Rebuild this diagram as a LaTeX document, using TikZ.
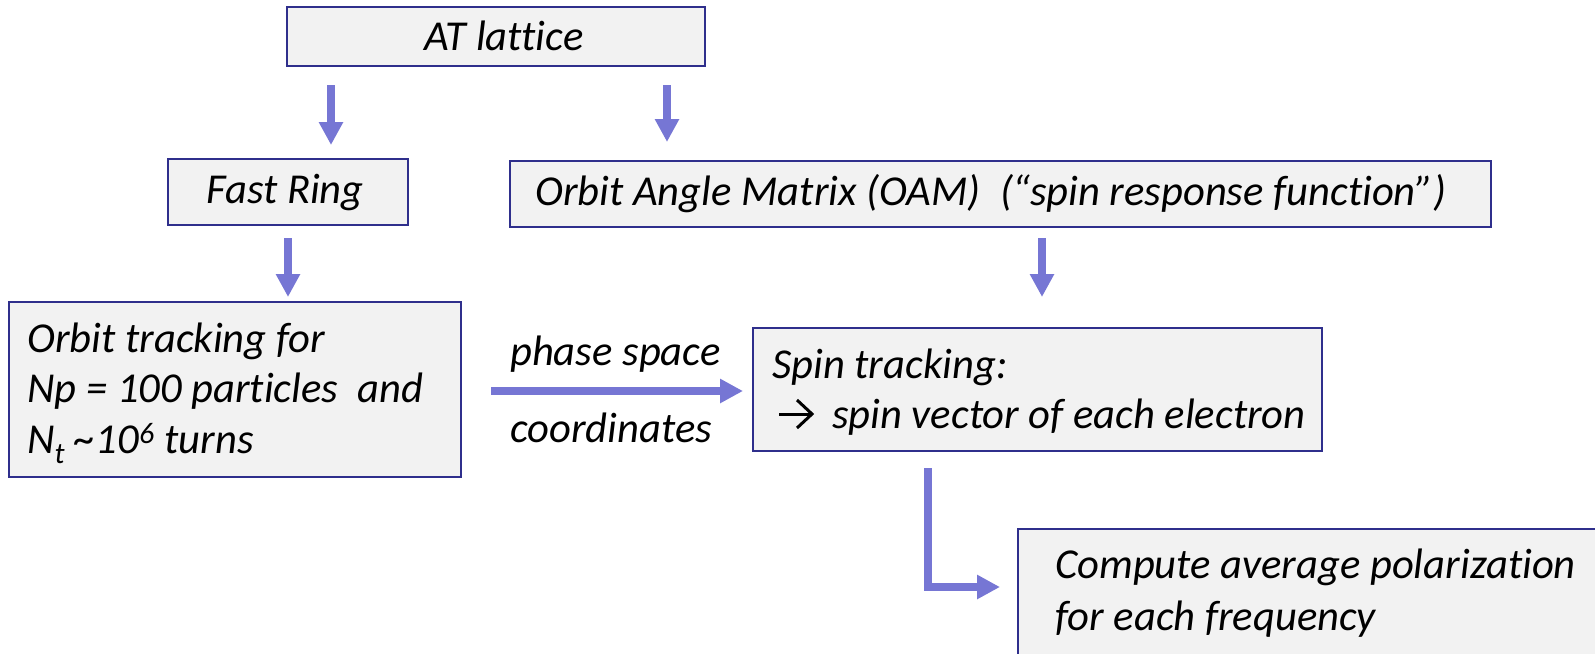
\documentclass[tikz,border=0pt]{standalone}
\usepackage{fontspec}
\setmainfont{Carlito}[Ligatures=CommonOff]
\usetikzlibrary{arrows.meta,calc}

\definecolor{boxfill}{RGB}{242,242,242}
\definecolor{boxline}{RGB}{47,47,140}
\definecolor{flow}{RGB}{118,118,212}

\tikzset{
  box/.style={draw=boxline, line width=2pt, fill=boxfill, inner sep=0pt,
    outer sep=0pt, anchor=north west},
  txt/.style={inner sep=0pt, anchor=base west,
    font=\itshape\fontsize{42.6}{51}\selectfont},
  ctxt/.style={txt, anchor=base},
  flowarrow/.style={draw=flow, line width=7.5pt, line join=miter,
    -{Triangle[width=23pt,length=23pt]}},
  bullet arrow/.style={draw=black, line width=3pt, line join=miter},
}

\begin{document}
\begin{tikzpicture}[x=1pt,y=-1pt]
\useasboundingbox (0,0) rectangle (1595,653);
\clip (0,0) rectangle (1595,653);

% boxes
\node[box, minimum width=418pt, minimum height=59pt]  (lattice)  at (287,7)   {};
\node[box, minimum width=240pt, minimum height=66pt]  (fastring) at (168,159) {};
\node[box, minimum width=981pt, minimum height=66pt]  (oam)      at (510,161) {};
\node[box, minimum width=452pt, minimum height=175pt] (orbit)    at (9,302)   {};
\node[box, minimum width=569pt, minimum height=123pt] (spin)     at (753,328) {};
\node[box, minimum width=620pt, minimum height=160pt] (compute)  at (1018,529) {};

% box texts
\node[ctxt] (lattice-t)  at (504,50)  {AT lattice};
\node[ctxt] (fastring-t) at (285,203) {Fast Ring};
\node[txt]  (oam-t)      at (535,205) {Orbit Angle Matrix (OAM)\ \ (“spin response function”)};
\node[txt]  (orbit-t1)   at (27,352)  {Orbit tracking for};
\node[txt]  (orbit-t2)   at (27,402)  {Np = 100 particles\ \ and};
\node[txt]  (orbit-t3)   at (27,453)  {N\textsubscript{t} \textasciitilde10\textsuperscript{6} turns};
\node[txt]  (spin-t1)    at (772,378) {Spin tracking:};
\node[txt]  (spin-t2)    at (832,428) {spin vector of each electron};
\node[txt]  (compute-t1) at (1055,578) {Compute average polarization};
\node[txt]  (compute-t2) at (1055,630) {for each frequency};

% bullet arrow in front of the second spin line
\draw[bullet arrow] (779,414) -- (811,414);
\draw[bullet arrow] (797,400) -- (812,414) -- (797,428);

% arrow labels
\node[txt] (phase-t)  at (510,365) {phase space};
\node[txt] (coords-t) at (510,442) {coordinates};

% connector anchor points
\coordinate (a1) at ($(lattice.south west)+(44,0)$);
\coordinate (a2) at ($(lattice.south west)+(380,0)$);
\coordinate (a4) at ($(oam.south west)+(532,0)$);
\coordinate (a6) at ($(spin.south west)+(175,0)$);
\coordinate (a6end) at ($(compute.north west)+(0,58)$);

% connectors
\draw[flowarrow, shorten <=19pt, shorten >=14pt] (a1) -- (a1 |- fastring.north);
\draw[flowarrow, shorten <=19pt, shorten >=19pt] (a2) -- (a2 |- oam.north);
\draw[flowarrow, shorten <=13pt, shorten >=5pt]  (fastring.south) -- (fastring.south |- orbit.north);
\draw[flowarrow, shorten <=11pt, shorten >=31pt] (a4) -- (a4 |- spin.north);
\draw[flowarrow, shorten <=30pt, shorten >=10pt] ($(orbit.east)+(0,1.5)$) -- ($(orbit.east -| spin.west)+(0,1.5)$);
\draw[flowarrow, shorten <=17pt, shorten >=18pt] (a6) |- (a6end);
\end{tikzpicture}
\end{document}
